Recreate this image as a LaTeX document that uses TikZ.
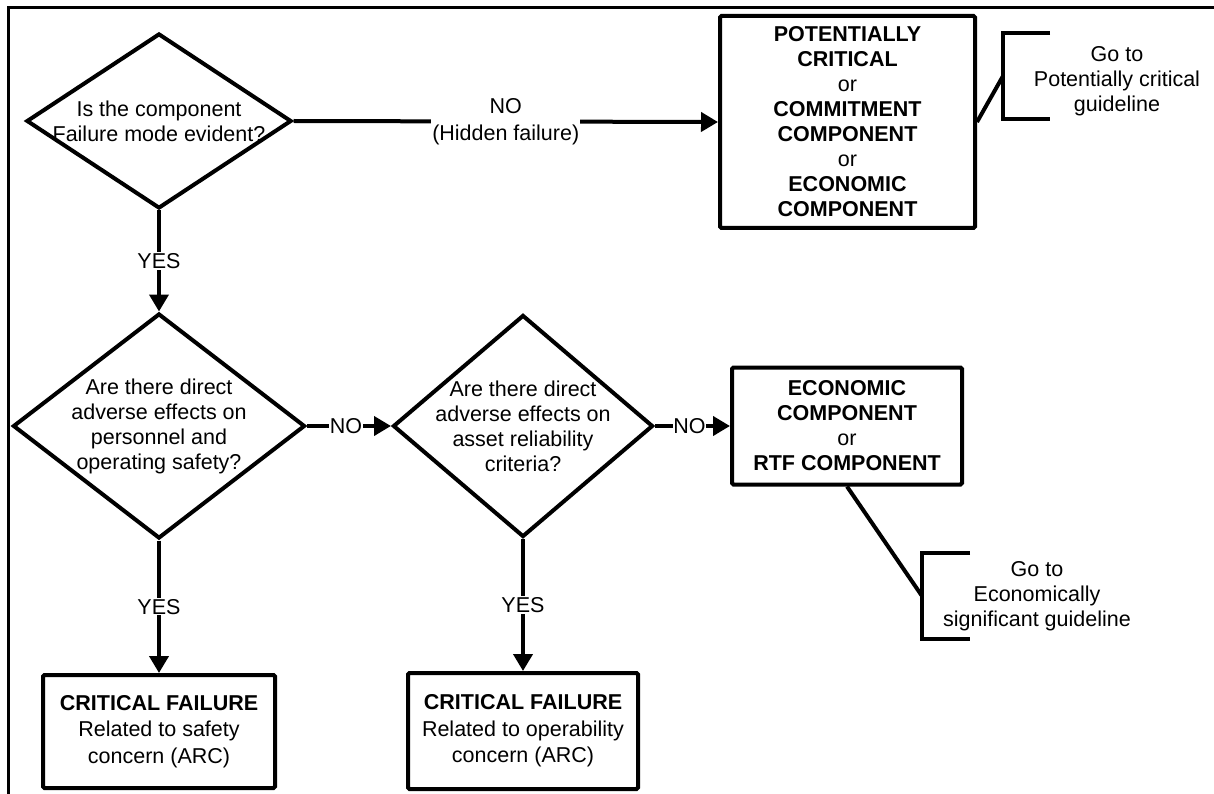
\documentclass[tikz,border=0pt]{standalone}
\usepackage{fontspec}
\setmainfont{Liberation Sans}
\usetikzlibrary{shapes.geometric,arrows.meta}
\begin{document}
\begin{tikzpicture}[x=1pt,y=-1pt,
  every node/.style={font=\fontsize{21.5}{25}\selectfont, align=center},
  decision/.style={diamond, draw, line width=4pt, inner sep=0pt},
  outcome/.style={rectangle, draw, line width=4pt, rounded corners=1.5pt, inner sep=0pt},
  flow/.style={line width=4pt, -{Triangle[length=17pt,width=19pt]}},
  link/.style={line width=4pt},
  tag/.style={fill=white, inner sep=1pt},
  note/.style={inner sep=0pt}
]
\useasboundingbox (0,0) rectangle (1214,794);

% frame (top and left edges only)
\draw[line width=3pt] (8,794) -- (8,8) -- (1214,8);

% decisions
\node[decision, minimum width=265pt, minimum height=175pt,
      label={center:Is the component\\Failure mode evident?}] (d1) at (159,121) {};
\node[decision, minimum width=292pt, minimum height=225pt,
      label={center:Are there direct\\adverse effects on\\personnel and\\operating safety?}] (d2) at (159,426) {};
\node[decision, minimum width=260pt, minimum height=222pt,
      label={center:Are there direct\\adverse effects on\\asset reliability\\criteria?}] (d3) at (523,426) {};

% outcomes
\node[outcome, minimum width=255pt, minimum height=212pt] (p) at (847.5,122)
  {\textbf{POTENTIALLY}\\\textbf{CRITICAL}\\or\\\textbf{COMMITMENT}\\\textbf{COMPONENT}\\or\\\textbf{ECONOMIC}\\\textbf{COMPONENT}};
\node[outcome, minimum width=230pt, minimum height=117pt] (e) at (847,426)
  {\textbf{ECONOMIC}\\\textbf{COMPONENT}\\or\\\textbf{RTF COMPONENT}};
\node[outcome, minimum width=232pt, minimum height=113pt,
      font=\fontsize{21.5}{26.5}\selectfont] (c1) at (159,731.5)
  {\textbf{CRITICAL FAILURE}\\Related to safety\\concern (ARC)};
\node[outcome, minimum width=230pt, minimum height=116pt,
      font=\fontsize{21.5}{26.5}\selectfont] (c2) at (523,731)
  {\textbf{CRITICAL FAILURE}\\Related to operability\\concern (ARC)};

% flow arrows
\draw[flow] (d1.east) -- node[tag, font=\fontsize{21.5}{27}\selectfont]{NO\\(Hidden failure)} (p.west);
\draw[flow] (d1.south) -- node[tag]{YES} (d2.north);
\draw[flow] (d2.east) -- node[tag, inner sep=0.5pt, xshift=-3pt]{NO} (d3.west);
\draw[flow] (d3.east) -- node[tag, inner sep=0.5pt, xshift=-3pt]{NO} (e.west);
\draw[flow] (d2.south) -- node[tag]{YES} (c1.north);
\draw[flow] (d3.south) -- node[tag]{YES} (c2.north);

% guideline references
\coordinate (b1) at (1003,76);
\draw[link] (p.east) -- (b1);
\draw[link] (b1) ++(47,-43) -- ++(-47,0) -- ++(0,86) -- ++(47,0);
\node[note] (g1) at (1117,81) {Go to\\Potentially critical\\guideline};

\coordinate (b2) at (922,596);
\draw[link] (e.south) -- (b2);
\draw[link] (b2) ++(48,-43) -- ++(-48,0) -- ++(0,86) -- ++(48,0);
\node[note] (g2) at (1037,596) {Go to\\Economically\\significant guideline};
\end{tikzpicture}
\end{document}
